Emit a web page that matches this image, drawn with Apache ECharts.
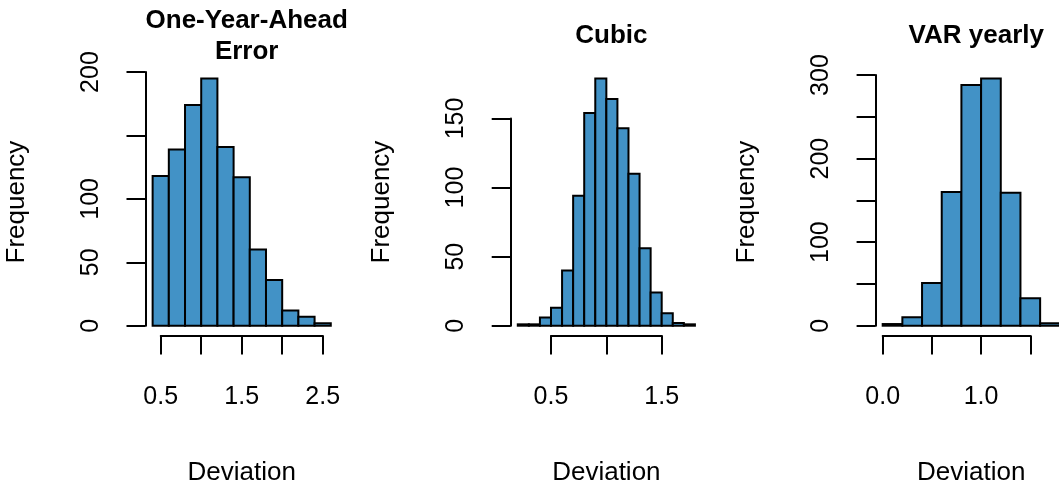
<!DOCTYPE html>
<html><head><meta charset="utf-8">
<script src="https://cdn.jsdelivr.net/npm/echarts@6/dist/echarts.min.js"></script>
<style>html,body{margin:0;padding:0;background:#fff}#c{width:1059px;height:486px}</style>
</head><body><div id="c"></div>
<script>
// ---------- DATA ----------
const titles = ['One-Year-Ahead\nError', 'Cubic', 'VAR yearly'];
const xLabel = 'Deviation';
const yLabel = 'Frequency';

const p1Breaks = [0.4, 0.6, 0.8, 1.0, 1.2, 1.4, 1.6, 1.8, 2.0, 2.2, 2.4, 2.6];
const p1Counts = [118, 139, 174, 195, 141, 117, 60, 36, 12, 7, 2];
const p1XTicks = [0.5, 1.0, 1.5, 2.0, 2.5];
const p1XTickLabels = ['0.5', '1.5', '2.5'];
const p1YTicks = [0, 50, 100, 150, 200];
const p1YTickLabels = ['0', '50', '100', '200'];

const p2Breaks = [0.2, 0.3, 0.4, 0.5, 0.6, 0.7, 0.8, 0.9, 1.0, 1.1, 1.2, 1.3, 1.4, 1.5, 1.6, 1.7, 1.8];
const p2Counts = [1, 1, 6, 13, 40, 94, 154, 179, 164, 143, 110, 56, 24, 9, 2, 1];
const p2XTicks = [0.5, 1.0, 1.5];
const p2XTickLabels = ['0.5', '1.5'];
const p2YTicks = [0, 50, 100, 150];
const p2YTickLabels = ['0', '50', '100', '150'];

const p3Breaks = [0.0, 0.2, 0.4, 0.6, 0.8, 1.0, 1.2, 1.4, 1.6, 1.8];
const p3Counts = [2, 10, 51, 160, 288, 296, 159, 33, 3];
const p3XTicks = [0.0, 0.5, 1.0, 1.5];
const p3XTickLabels = ['0.0', '1.0'];
const p3YTicks = [0, 50, 100, 150, 200, 250, 300];
const p3YTickLabels = ['0', '100', '200', '300'];

// ---------- LAYOUT / STYLE ----------
const FONT = '"Liberation Sans", Arial, Helvetica, sans-serif';
const FILL = '#4292c6';
const plotTop = 68.5, plotBottom = 335.6;
const plotLR = [[145.5, 337.9], [510.7, 702.0], [875.6, 1066.9]];
const panels = [
  {breaks: p1Breaks, counts: p1Counts, xt: p1XTicks, xl: p1XTickLabels, yt: p1YTicks, yl: p1YTickLabels},
  {breaks: p2Breaks, counts: p2Counts, xt: p2XTicks, xl: p2XTickLabels, yt: p2YTicks, yl: p2YTickLabels},
  {breaks: p3Breaks, counts: p3Counts, xt: p3XTicks, xl: p3XTickLabels, yt: p3YTicks, yl: p3YTickLabels}
];

const gridA = [], gridB = [], xA = [], xB = [], yA = [], yB = [], series = [], title = [];
const txt = {fontFamily: FONT, fontSize: 25, color: '#000'};
const nameTxt = {fontFamily: FONT, fontSize: 26, color: '#000'};
const lineSt = {color: '#000', width: 2};

panels.forEach((p, i) => {
  const L = plotLR[i][0], R = plotLR[i][1], W = R - L, H = plotBottom - plotTop;
  // R-style usr extents (4% padding)
  const xa0 = p.breaks[0], xb0 = p.breaks[p.breaks.length - 1];
  const xa = xa0 - 0.04 * (xb0 - xa0), xb = xb0 + 0.04 * (xb0 - xa0);
  const ymax = Math.max(...p.counts);
  const ya = -0.04 * ymax, yb = 1.04 * ymax;
  gridA.push({left: L, top: plotTop, width: W, height: H, outerBoundsMode: 'none', containLabel: false});
  xA.push({gridIndex: i, type: 'value', min: xa, max: xb, show: true,
    axisLine: {show: false}, axisTick: {show: false}, axisLabel: {show: false}, splitLine: {show: false},
    name: xLabel, nameLocation: 'middle', nameGap: 124, nameTextStyle: nameTxt});
  yA.push({gridIndex: i, type: 'value', min: ya, max: yb, show: true,
    axisLine: {show: false}, axisTick: {show: false}, axisLabel: {show: false}, splitLine: {show: false},
    name: yLabel, nameLocation: 'middle', nameRotate: 90, nameGap: 116, nameTextStyle: nameTxt});
  series.push({
    type: 'custom', xAxisIndex: i, yAxisIndex: i, clip: false,
    data: p.counts.map((c, k) => [p.breaks[k], p.breaks[k + 1], c]),
    encode: {x: [0, 1], y: 2},
    renderItem: function (params, api) {
      const a = api.coord([api.value(0), api.value(2)]);
      const b = api.coord([api.value(1), 0]);
      return {type: 'rect', shape: {x: a[0], y: a[1], width: b[0] - a[0], height: b[1] - a[1]},
        style: {fill: FILL, stroke: '#000', lineWidth: 2}};
    }
  });
  // tick-range grid
  const px = v => L + (v - xa) / (xb - xa) * W;
  const py = v => plotBottom - (v - ya) / (yb - ya) * H;
  const xt0 = p.xt[0], xt1 = p.xt[p.xt.length - 1];
  const yt0 = p.yt[0], yt1 = p.yt[p.yt.length - 1];
  const tl = px(xt0), tr = px(xt1), tt = py(yt1), tb = py(yt0);
  gridB.push({left: tl, top: tt, width: tr - tl, height: tb - tt, outerBoundsMode: 'none', containLabel: false});
  xB.push({gridIndex: 3 + i, type: 'value', min: xt0, max: xt1, interval: p.xt[1] - p.xt[0],
    offset: plotBottom - tb,
    axisLine: {show: true, onZero: false, lineStyle: lineSt},
    axisTick: {show: true, length: 19, lineStyle: lineSt},
    axisLabel: Object.assign({margin: 49, formatter: v => { const s = v.toFixed(1); return p.xl.includes(s) ? s : ''; }}, txt),
    splitLine: {show: false}});
  yB.push({gridIndex: 3 + i, type: 'value', min: yt0, max: yt1, interval: p.yt[1] - p.yt[0],
    offset: tl - L,
    axisLine: {show: true, onZero: false, lineStyle: lineSt},
    axisTick: {show: true, length: 19, lineStyle: lineSt},
    axisLabel: Object.assign({margin: 42, rotate: 90, formatter: v => { const s = String(Math.round(v)); return p.yl.includes(s) ? s : ''; }}, txt),
    splitLine: {show: false}});
  title.push({text: titles[i], left: (L + R) / 2, top: i === 0 ? 0 : 15, textAlign: 'center',
    textStyle: {fontFamily: FONT, fontSize: 26, fontWeight: 'bold', color: '#000', lineHeight: 31}});
});

const chart = echarts.init(document.getElementById('c'), null, {renderer: 'canvas'});
chart.setOption({animation: false, backgroundColor: '#fff', title,
  grid: gridA.concat(gridB), xAxis: xA.concat(xB), yAxis: yA.concat(yB), series});
</script>
</body></html>
